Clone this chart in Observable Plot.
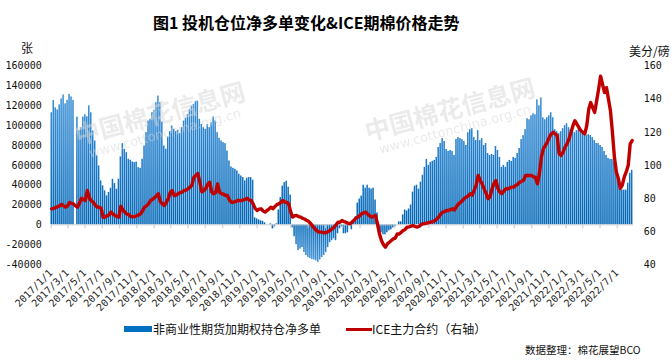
<!DOCTYPE html>
<html><head><meta charset="utf-8">
<script src="https://cdn.jsdelivr.net/npm/d3@7"></script>
<script src="https://cdn.jsdelivr.net/npm/@observablehq/plot@0.6"></script>
<style>
body{margin:0;background:#fff;}
#wrap{position:relative;width:672px;height:364px;overflow:hidden;font-family:"Noto Sans CJK SC","Noto Sans",sans-serif;color:#111;}
#wrap svg{position:absolute;left:0;top:0;}
.t{position:absolute;white-space:nowrap;line-height:1;}
</style></head><body><div id="wrap"></div><script>
// ---------- data ----------
const weekStart = "2017-01-03"; // first weekly report (Tuesday), one bar / price per week
const netLong = [
113000,125500,118000,116000,121000,127000,131000,122000,125500,131500,129000,125500,
null,
108700,95000,98000,108700,111000,109000,120000,113000,94600,
84600,69500,59400,44300,39300,34200,29200,32600,36900,
46000,41600,35900,46000,68500,81900,76200,72800,66100,
65100,63400,62800,63400,57700,57000,66100,79500,93000,104700,
106400,113100,115400,123200,129900,123200,103700,79500,76200,88600,
94000,99700,96300,94000,95300,92000,98000,104700,107400,111400,
116500,119800,121500,124200,
124800,106400,101300,98000,96300,101300,98000,103000,108700,104700,
93000,87300,84600,82900,81900,74500,64400,58400,57000,56000,
54400,51000,49300,47700,44300,47000,47700,47700,45000,
7000,6000,5000,4000,3500,2000,null,null,1000,
-4000,-2000,1000,15000,27500,39000,42600,44000,38000,30000,
-3000,-12000,-20000,-26000,-24500,-23000,-28000,-31000,-33000,-34000,
-35000,-35500,-36500,-38000,-35500,-33000,-31000,-28000,-23000,-18000,
-16000,-14000,-16000,-9000,-4000,-2000,
-9000,-9000,-8000,2000,-5000,3000,8000,22000,26000,29000,
40000,37000,40000,37000,36000,37000,25000,12000,-4000,-8000,
-10000,-10000,-8000,-6000,-5000,-3000,-2000,null,3000,3000,
10000,15000,14000,16000,20000,33000,39000,40000,36000,43000,
50000,58000,66000,60000,63000,64000,65000,68000,78000,82000,
87000,84000,76000,74000,75000,74000,70000,86000,88000,87000,
86000,84000,80000,93000,96000,97000,88000,85000,95000,85000,87000,80000,
82000,72000,70000,71000,70000,79000,75000,68000,58000,60000,
58000,63000,65000,64000,68000,67000,72000,77000,86000,90000,
96000,107000,106000,110000,112000,111000,126000,120000,128000,108000,
106000,108000,110000,113000,108000,96000,94000,92000,94000,97000,
100000,102000,98000,96000,95000,93000,95000,97000,93000,92000,
90000,90000,91000,90000,88000,85000,82000,82000,80000,78000,
74000,70000,67000,66000,66000,63000,55000,45000,37000,35000,
35000,35000,42000,52000,55000
];
const icePrice = [
73.7,74,74.5,75,75.5, 76.4,75.5,74.7,75.5,77.5, 77,76.7,75.5,74.7,77, 80,79.5,78.7,84.8,80.5,
78.5,77.7,76,74.7,74.7, 74,68.5,68.7,69.5,70, 71.7,70.5,69.7,69,68.7, 75.2,73,71.7,70.5,70.3,
69,69,69,69.5,70, 70.7,72.5,74.7,75.5,76.7, 78.7,79.5,80.3,81.5,82.8, 78,76.7,75.7,77.5,79.7,
83.5,84.8,81.7,82,82.8, 83.5,83.8,84.8,85,85.8, 86.8,88,92.8,93.9,95, 90,84,84.8,86,88.5,
89.8,84,82.8,83.5,88.8, 83.8,82.8,82.5,81.8,81.8, 79,77.7,77.7,78,78.7, 78.7,78.7,79,79.5,80,
79,78.7,76.7,74,72.7, 73.5,73.7,72.5,71.7,72.7, 73.5,74.7,73.7,75,76.2, 76.7,77.5,78.7,77.7,77.7,
76.7,72,68.7,69.5,69.7, 69,68.7,68,67.5,66.8, 66.2,65,63.5,62,60.6, 59.8,59.6,59.6,59.2,59.3,
60,60.6,61.5,62.6,64, 65.6,65.6,66.6,66,65.6, 65,64.6,65.5,66.6,68, 68.7,69.5,70.7,71.2,71.7,
70.5,69.5,68.7,69.2,69.7, 64.6,58.5,54.5,52,50.5, 52.5,53.5,54.5,55.5,56, 58.5,58.5,59.5,60.6,61.2,
62.6,62.8,63.2,63.6,63, 62.6,63,64,64.6,64.8, 65,65.3,65.6,66,66.5, 67.5,68.7,70.5,71.7,72,
72.7,72.7,73.2,73.7,73, 75,76.7,77.5,78.7,80, 80.8,81.5,82.8,82,85, 88,93.9,91,88.8,85.8,
83,79.8,81,85.8,89, 90.8,86,83.8,82.8,84.5, 85.8,85.8,86.3,86.8,86.8, 87.8,88.5,89.8,90.3,91,
93.9,93.9,93.9,93.9,93, 92.8,88.8,95,105,110, 112,114,117,119,120, 119,118,107,106,108,
111,113,116,120,124, 127,125,123,121,120, 119,124,134,138,135, 132,139,146,154,149,
144,147,140,133,120, 105,96,92,86,88, 93,96,100,113,115
];
const xTickLabels = [
"2017/1/1","2017/3/1","2017/5/1","2017/7/1","2017/9/1","2017/11/1",
"2018/1/1","2018/3/1","2018/5/1","2018/7/1","2018/9/1","2018/11/1",
"2019/1/1","2019/3/1","2019/5/1","2019/7/1","2019/9/1","2019/11/1",
"2020/1/1","2020/3/1","2020/5/1","2020/7/1","2020/9/1","2020/11/1",
"2021/1/1","2021/3/1","2021/5/1","2021/7/1","2021/9/1","2021/11/1",
"2022/1/1","2022/3/1","2022/5/1","2022/7/1"
];
const leftTicks = [-40000,-20000,0,20000,40000,60000,80000,100000,120000,140000,160000];
const rightTicks = [40,60,80,100,120,140,160];
const seriesNames = ["非商业性期货加期权持仓净多单","ICE主力合约（右轴）"];
const titleText = "图1  投机仓位净多单变化&ICE期棉价格走势";

// ---------- build ----------
const DAY = 864e5;
const t0 = Date.parse(weekStart + "T00:00:00Z");
const bars = netLong.map((v, i) => ({date: new Date(t0 + i * 7 * DAY), v})).filter(d => d.v != null);
const line = icePrice.map((p, i) => ({date: new Date(t0 + i * 7 * DAY), p}));
const parseLabel = s => { const [y, m, d] = s.split("/").map(Number); return new Date(Date.UTC(y, m - 1, d)); };
const ticks = xTickLabels.map(s => ({date: parseLabel(s), label: s}));
const leftMin = leftTicks[0], leftMax = leftTicks[leftTicks.length - 1];
const rMin = rightTicks[0], rMax = rightTicks[rightTicks.length - 1];
const toLeft = p => leftMin + (p - rMin) / (rMax - rMin) * (leftMax - leftMin);
const fromLeft = v => Math.round(rMin + (v - leftMin) / (leftMax - leftMin) * (rMax - rMin));

const plot = Plot.plot({
  width: 672, height: 364,
  marginTop: 65.7, marginBottom: 100, marginLeft: 50.7, marginRight: 39.2,
  x: {type: "utc", domain: [new Date(Date.UTC(2017, 0, 1)), new Date(Date.UTC(2022, 7, 27))], axis: null, label: null},
  y: {domain: [leftMin, leftMax], axis: null, label: null},
  style: {background: "transparent", color: "#111", overflow: "visible"},
  marks: [
    Plot.rectY(bars, {x1: d => new Date(+d.date - 2.7 * DAY), x2: d => new Date(+d.date + 2.7 * DAY), y1: 0, y2: "v", fill: "url(#barGrad)"}),
    Plot.ruleY([0], {stroke: "#d0d0d0", strokeWidth: 1}),
    Plot.ruleX(ticks, {x: "date", y1: 0, y2: -4000, stroke: "#c8c8c8"}),
    Plot.lineY(line, {x: "date", y: d => toLeft(d.p), stroke: "#c00000", strokeWidth: 3.4, strokeLinejoin: "round", curve: "linear"}),
    Plot.axisY(leftTicks, {anchor: "left", label: null, tickSize: 0, tickPadding: 9.5, fontSize: 10, fontFamily: "DejaVu Sans Mono", tickFormat: d => String(d)}),
    Plot.axisY(rightTicks.map(toLeft), {anchor: "right", label: null, tickSize: 0, tickPadding: 10.5, fontSize: 10, fontFamily: "DejaVu Sans Mono", tickFormat: v => String(fromLeft(v))}),
    Plot.text(ticks, {x: "date", text: "label", frameAnchor: "bottom", rotate: -45, textAnchor: "end", dx: 2, dy: 9, fontSize: 10, fontFamily: "DejaVu Sans Mono", fill: "#222"})
  ]
});

// gradient for bars
const ys = plot.scale("y");
const defs = d3.select(plot).insert("defs", ":first-child");
const grad = defs.append("linearGradient").attr("id", "barGrad").attr("gradientUnits", "userSpaceOnUse")
  .attr("x1", 0).attr("x2", 0).attr("y1", ys.apply(leftMax)).attr("y2", ys.apply(leftMin));
const zeroOff = (ys.apply(0) - ys.apply(leftMax)) / (ys.apply(leftMin) - ys.apply(leftMax));
[[0, "#4b9ad9"], [0.4, "#2580cc"], [zeroOff, "#0066b6"], [1, "#4a97d8"]].forEach(([o, c]) =>
  grad.append("stop").attr("offset", o).attr("stop-color", c));

const wrap = document.getElementById("wrap");
wrap.appendChild(plot);

// watermarks (faint)
const wm = d3.select(plot).append("g").attr("pointer-events", "none").attr("opacity", 0.5)
  .attr("font-family", "Noto Sans CJK SC").attr("fill", "#d6d6d6").attr("text-anchor", "middle");
[[160, 114], [450, 110]].forEach(([x, y]) => {
  wm.append("text").attr("transform", `translate(${x},${y}) rotate(-15)`).attr("dy", "0.35em").attr("font-size", 25).attr("font-weight", "bold").text("中国棉花信息网");
  wm.append("text").attr("transform", `translate(${x + 5},${y + 19}) rotate(-15)`).attr("dy", "0.35em").attr("font-size", 13).attr("font-family", "DejaVu Sans").text("www.cottonchina.org.cn");
});

function addText(txt, left, top, css) {
  const d = document.createElement("div");
  d.className = "t"; d.textContent = txt;
  d.style.left = left + "px"; d.style.top = top + "px";
  Object.assign(d.style, css || {});
  wrap.appendChild(d);
  return d;
}
addText(titleText, 153, 14, {fontSize: "16px", fontWeight: "bold", color: "#000"});
addText("张", 21, 42, {fontSize: "12px"});
addText("美分/磅", 629, 45, {fontSize: "12px"});
// legend
addText("", 124, 326, {width: "28px", height: "6px", background: "#0070c0"});
addText(seriesNames[0], 153, 323, {fontSize: "12px"});
addText("", 346, 327.5, {width: "26px", height: "3px", background: "#c00000"});
addText(seriesNames[1], 372, 323, {fontSize: "12px"});
addText("数据整理：棉花展望BCO", 525, 345, {fontSize: "10.5px"});
</script></body></html>
